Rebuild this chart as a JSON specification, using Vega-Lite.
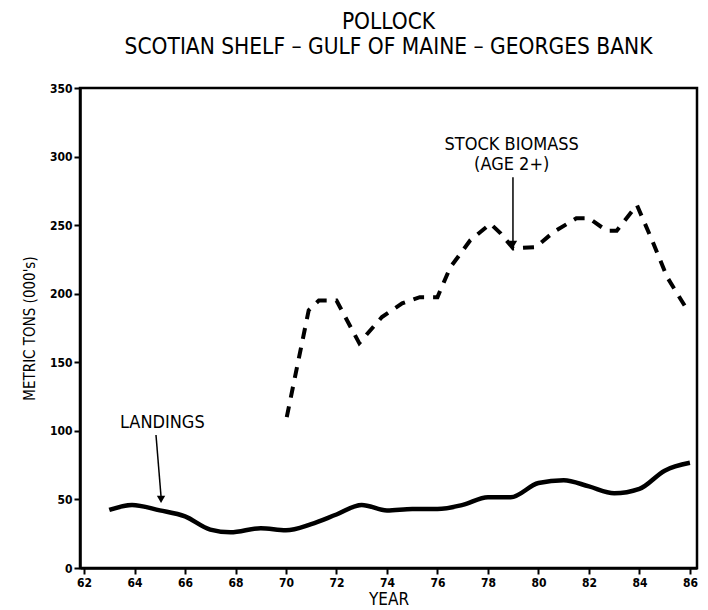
{
  "$schema": "https://vega.github.io/schema/vega-lite/v6.json",
  "width": 617,
  "height": 480,
  "autosize": {"type": "none"},
  "padding": {"left": 80, "top": 88, "right": 11, "bottom": 42},
  "background": "white",
  "title": {
    "text": ["POLLOCK", "SCOTIAN SHELF – GULF OF MAINE – GEORGES BANK"],
    "font": "DejaVu Sans Condensed",
    "fontSize": 22.5,
    "fontWeight": "normal",
    "color": "black",
    "anchor": "middle",
    "offset": 24,
    "lineHeight": 25
  },
  "config": {
    "view": {"stroke": "black", "strokeWidth": 2.5},
    "axis": {
      "domainColor": "black",
      "domainWidth": 2.5,
      "tickColor": "black",
      "tickWidth": 2,
      "tickSize": 6,
      "grid": false,
      "labelFont": "DejaVu Sans Condensed",
      "labelFontWeight": "bold",
      "labelFontSize": 12,
      "labelColor": "black",
      "titleFont": "DejaVu Sans Condensed",
      "titleFontWeight": "normal",
      "titleColor": "black"
    }
  },
  "datasets": {
    "landings": [
      {"year": 63, "value": 42.3},
      {"year": 63.9, "value": 46},
      {"year": 65, "value": 42},
      {"year": 66, "value": 37.6},
      {"year": 67, "value": 28},
      {"year": 67.8, "value": 26},
      {"year": 69, "value": 29},
      {"year": 70, "value": 27.5},
      {"year": 71, "value": 32},
      {"year": 72, "value": 39},
      {"year": 73, "value": 46},
      {"year": 74, "value": 42},
      {"year": 75, "value": 43},
      {"year": 76, "value": 43},
      {"year": 77, "value": 46},
      {"year": 78, "value": 51.6},
      {"year": 78.9, "value": 51.6},
      {"year": 80, "value": 62},
      {"year": 81, "value": 64},
      {"year": 82, "value": 59.5},
      {"year": 83, "value": 54.5},
      {"year": 84, "value": 57.7},
      {"year": 85, "value": 71},
      {"year": 86, "value": 76.7}
    ],
    "biomass": [
      {"year": 70.03, "value": 110},
      {"year": 70.9, "value": 188},
      {"year": 71.3, "value": 195},
      {"year": 72.0, "value": 195},
      {"year": 72.9, "value": 164},
      {"year": 73.8, "value": 183},
      {"year": 74.6, "value": 193},
      {"year": 75.3, "value": 197.5},
      {"year": 76.0, "value": 197.5},
      {"year": 76.5, "value": 219},
      {"year": 77.3, "value": 239},
      {"year": 78.1, "value": 251},
      {"year": 78.5, "value": 244},
      {"year": 79.0, "value": 233},
      {"year": 79.9, "value": 234},
      {"year": 80.6, "value": 245},
      {"year": 81.5, "value": 255},
      {"year": 82.0, "value": 255},
      {"year": 82.7, "value": 246},
      {"year": 83.1, "value": 246},
      {"year": 83.9, "value": 264.6},
      {"year": 84.5, "value": 239},
      {"year": 85.1, "value": 212},
      {"year": 85.9, "value": 188}
    ],
    "labels": [
      {"year": 65.1, "value": 106, "text": "LANDINGS"},
      {"year": 78.94, "value": 308.5, "text": "STOCK BIOMASS"},
      {"year": 78.94, "value": 293.5, "text": "(AGE 2+)"}
    ],
    "arrows": [
      {"x1": 64.85, "y1": 97, "x2": 65.05, "y2": 52},
      {"x1": 78.99, "y1": 285, "x2": 78.99, "y2": 238}
    ],
    "heads": [
      {"year": 65.05, "value": 50},
      {"year": 78.99, "value": 236}
    ]
  },
  "encoding": {
    "x": {
      "field": "year",
      "type": "quantitative",
      "scale": {"domain": [61.84, 86.28], "nice": false, "zero": false},
      "axis": {"values": [62, 64, 66, 68, 70, 72, 74, 76, 78, 80, 82, 84, 86], "title": "YEAR", "titleFontSize": 17, "titlePadding": 3, "format": "d", "labelPadding": 3}
    },
    "y": {
      "field": "value",
      "type": "quantitative",
      "scale": {"domain": [0, 350], "nice": false},
      "axis": {"values": [0, 50, 100, 150, 200, 250, 300, 350], "title": "METRIC TONS (000's)", "titleFontSize": 15, "titlePadding": 12, "format": "d", "labelPadding": 2}
    }
  },
  "layer": [
    {
      "data": {"name": "landings"},
      "mark": {"type": "line", "color": "black", "strokeWidth": 4.5, "interpolate": "monotone"}
    },
    {
      "data": {"name": "biomass"},
      "mark": {"type": "line", "color": "black", "strokeWidth": 4, "strokeDash": [11, 9]}
    },
    {
      "data": {"name": "arrows"},
      "mark": {"type": "rule", "color": "black", "strokeWidth": 1.5},
      "encoding": {
        "x": {"field": "x1", "type": "quantitative"},
        "y": {"field": "y1", "type": "quantitative"},
        "x2": {"field": "x2"},
        "y2": {"field": "y2"}
      }
    },
    {
      "data": {"name": "heads"},
      "mark": {"type": "point", "shape": "triangle-down", "filled": true, "color": "black", "size": 70, "opacity": 1}
    },
    {
      "data": {"name": "labels"},
      "mark": {"type": "text", "font": "DejaVu Sans Condensed", "fontSize": 18, "color": "black", "align": "center", "baseline": "middle"},
      "encoding": {"text": {"field": "text"}}
    }
  ]
}
